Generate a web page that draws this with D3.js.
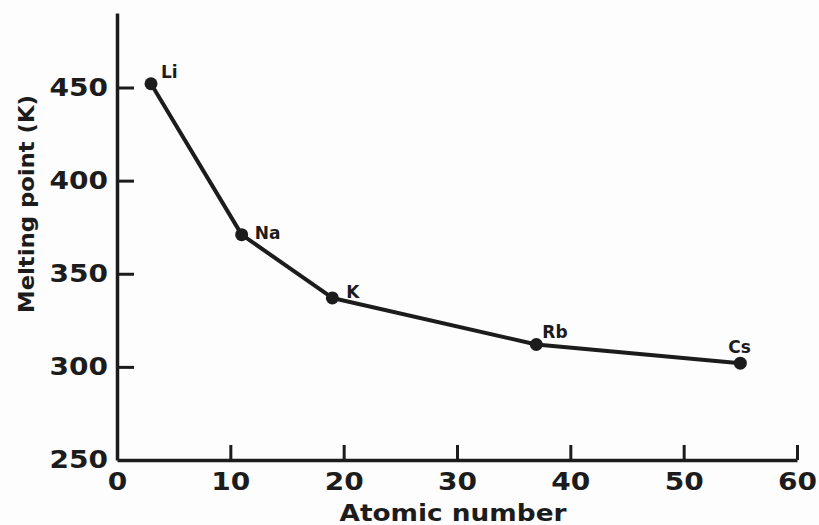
<!DOCTYPE html>
<html>
<head>
<meta charset="utf-8">
<script src="https://cdn.jsdelivr.net/npm/d3@7"></script>
<style>
  body { margin: 0; background: #fdfdfd; }
  svg { display: block; }
  text { font-family: "DejaVu Sans", sans-serif; fill: #1c1c1c; }
</style>
</head>
<body>
<div id="chart"></div>
<script>
// alkali metals: atomic number vs melting point
var elements = ["Li", "Na", "K", "Rb", "Cs"];
var atomicNumbers = [3, 11, 19, 37, 55];
var meltingPoints = [452, 371, 337, 312, 302];
var xTicks = [0, 10, 20, 30, 40, 50, 60];
var yTicks = [250, 300, 350, 400, 450];

// label offsets next to each point
var labelDx = [10, 13, 14, 6, -12];
var labelDy = [-6, 4, 0, -7, -10];

var W = 819, H = 525;
var ink = "#1c1c1c";

var data = elements.map(function(e, i) {
  return { name: e, x: atomicNumbers[i], y: meltingPoints[i], dx: labelDx[i], dy: labelDy[i] };
});

var svg = d3.select("#chart").append("svg")
  .attr("width", W)
  .attr("height", H);

var xscale = d3.scaleLinear().domain([0, 60]).range([117, 797]);
var yscale = d3.scaleLinear().domain([250, 490]).range([460, 13]);

// axes, ticks pointing into the plot
var xaxis = d3.axisBottom(xscale).tickValues(xTicks).tickSize(-15).tickPadding(13).tickSizeOuter(0);
var yaxis = d3.axisLeft(yscale).tickValues(yTicks).tickSize(-17).tickPadding(9).tickSizeOuter(0);

var gx = svg.append("g")
  .attr("transform", "translate(0," + yscale(250) + ")")
  .call(xaxis);
var gy = svg.append("g")
  .attr("transform", "translate(" + xscale(0) + ",0)")
  .call(yaxis);

[gx, gy].forEach(function(g) {
  g.select(".domain").attr("stroke", ink).attr("stroke-width", 3.5);
  g.selectAll(".tick line").attr("stroke", ink).attr("stroke-width", 3);
  g.selectAll(".tick text")
    .attr("fill", ink)
    .attr("font-size", 24)
    .attr("font-weight", "bold")
    .attr("font-family", "DejaVu Sans")
    .attr("textLength", function(d) { return String(d).length * 19.5; })
    .attr("lengthAdjust", "spacingAndGlyphs");
});
// hide the tick at the origin on the y side (the x axis covers it)
gy.selectAll(".tick line").filter(function(d) { return d === 250; }).remove();

// line through the points
var line = d3.line()
  .x(function(d) { return xscale(d.x); })
  .y(function(d) { return yscale(d.y); });

svg.append("path")
  .datum(data)
  .attr("d", line)
  .attr("fill", "none")
  .attr("stroke", ink)
  .attr("stroke-width", 4)
  .attr("stroke-linejoin", "round");

svg.selectAll(".dot")
  .data(data)
  .enter()
  .append("circle")
  .attr("class", "dot")
  .attr("cx", function(d) { return xscale(d.x); })
  .attr("cy", function(d) { return yscale(d.y); })
  .attr("r", 6.5)
  .attr("fill", ink);

svg.selectAll(".lab")
  .data(data)
  .enter()
  .append("text")
  .attr("class", "lab")
  .attr("x", function(d) { return xscale(d.x) + d.dx; })
  .attr("y", function(d) { return yscale(d.y) + d.dy; })
  .attr("font-size", 17)
  .attr("font-weight", "bold")
  .text(function(d) { return d.name; });

// axis titles
svg.append("text")
  .attr("x", 453)
  .attr("y", 521)
  .attr("text-anchor", "middle")
  .attr("font-size", 23)
  .attr("font-weight", "bold")
  .attr("textLength", 227)
  .attr("lengthAdjust", "spacingAndGlyphs")
  .text("Atomic number");

svg.append("text")
  .attr("transform", "translate(34,204) rotate(-90)")
  .attr("text-anchor", "middle")
  .attr("font-size", 22)
  .attr("font-weight", "bold")
  .attr("textLength", 218)
  .attr("lengthAdjust", "spacingAndGlyphs")
  .text("Melting point (K)");
</script>
</body>
</html>
